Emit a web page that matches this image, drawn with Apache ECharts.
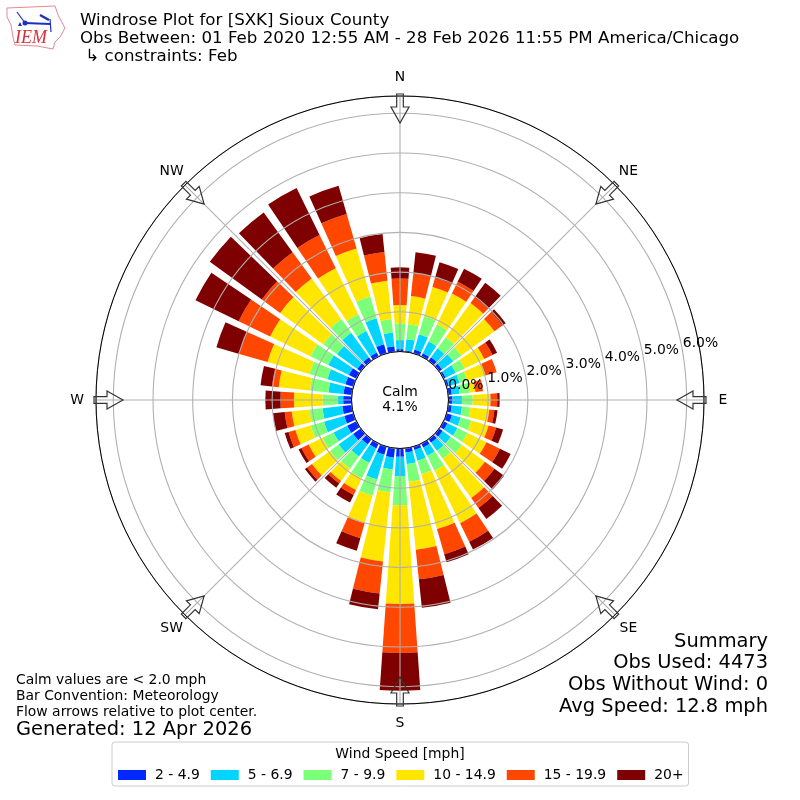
<!DOCTYPE html>
<html><head><meta charset="utf-8">
<style>html,body{margin:0;padding:0;background:#fff}#c{width:800px;height:800px}</style>
<script src="https://cdn.jsdelivr.net/npm/echarts@6/dist/echarts.min.js"></script>
</head><body><div id="c"></div>
<script>
const directions = [0,10,20,30,40,50,60,70,80,90,100,110,120,130,140,150,160,170,180,190,200,210,220,230,240,250,260,270,280,290,300,310,320,330,340,350];
const binNames = ['2 - 4.9','5 - 6.9','7 - 9.9','10 - 14.9','15 - 19.9','20+'];
const binColors = ['#0028ff','#00d4ff','#7cff79','#ffe600','#ff4700','#7f0000'];
const speed2to5 = [.06,.03,.10,.09,.11,.09,.06,.06,.09,.10,.09,.14,.11,.11,.11,.11,.09,.11,.21,.24,.21,.14,.16,.24,.26,.24,.24,.21,.21,.21,.21,.11,.11,.11,.24,.14];
const speed5to7 = [.23,.29,.40,.33,.28,.35,.28,.28,.20,.24,.26,.23,.28,.25,.25,.23,.28,.29,.49,.30,.65,.40,.38,.45,.38,.53,.50,.13,.38,.47,.58,.63,.76,.60,.68,.35];
const speed7to10 = [.42,.38,.48,.48,.35,.25,.25,.20,.25,.27,.21,.28,.28,.35,.25,.42,.35,.45,.73,.58,.43,.43,.38,.27,.31,.35,.33,.39,.47,.47,.50,.43,.43,.47,.57,.34];
const speed10to15 = [.46,.71,.76,.86,1.06,1.03,.55,.48,.15,.45,.48,.45,.53,.71,1.22,1.47,1.44,1.72,2.49,1.75,.72,.33,.38,.56,.39,.40,.45,.72,.79,1.10,1.13,1.34,1.26,1.29,1.26,.97];
const speed15to20 = [.67,.58,.24,.33,.18,.25,.23,.29,.19,.17,.13,.20,.38,.30,.31,.52,.66,.75,1.23,.81,.39,.14,.08,.15,.20,.18,.18,.34,.17,.74,.88,.57,.82,.93,.90,.73];
const speed20up = [.28,.53,.41,.37,.45,.10,.13,0,0,.06,.08,.18,.30,.30,.34,.22,.21,.72,.95,.40,.33,.21,.13,.07,.08,.10,.30,.38,.29,.60,1.21,1.62,1.24,1.32,.74,.45];
const binValues = [speed2to5,speed5to7,speed7to10,speed10to15,speed15to20,speed20up];
const radiusTicks = [0,1,2,3,4,5,6];
const radiusTickLabels = ['0.0%','1.0%','2.0%','3.0%','4.0%','5.0%','6.0%'];
const compassBearings = [0,45,90,135,180,225,270,315];
const compassLabels = ['N','NE','E','SE','S','SW','W','NW'];
const titleLines = ['Windrose Plot for [SXK] Sioux County','Obs Between: 01 Feb 2020 12:55 AM - 28 Feb 2026 11:55 PM America/Chicago',' \u21b3 constraints: Feb'];
const noteLines = ['Calm values are < 2.0 mph','Bar Convention: Meteorology','Flow arrows relative to plot center.'];
const generated = 'Generated: 12 Apr 2026';
const summaryLines = ['Summary','Obs Used: 4473','Obs Without Wind: 0','Avg Speed: 12.8 mph'];
const calmText = 'Calm\n4.1%';
const legendTitle = 'Wind Speed [mph]';

const FONT = '"DejaVu Sans"';
const CX = 400, CY = 400;
function txt(x,y,text,size,align,extra){
  return Object.assign({type:'text',x:x,y:y,z:20,silent:true,style:{text:text,fontFamily:FONT,fontSize:size,fill:'#000',textAlign:align||'left',textVerticalAlign:'middle'}},extra||{});
}
const graphics = [];
titleLines.forEach((t,i)=>graphics.push(txt(80,21+18*i,t,16.67)));
noteLines.forEach((t,i)=>graphics.push(txt(16,680+16*i,t,13.9)));
graphics.push(txt(16,730,generated,19.44));
summaryLines.forEach((t,i)=>graphics.push(txt(768,641.5+21.7*i,t,19.44,'right')));
graphics.push({type:'text',x:CX,y:CY,z:20,silent:true,style:{text:calmText,fontFamily:FONT,fontSize:13.9,lineHeight:15.5,fill:'#000',textAlign:'center',textVerticalAlign:'middle'}});
graphics.push(txt(400,754,legendTitle,13.9,'center'));
compassBearings.forEach((b,i)=>{
  const a=b*Math.PI/180;
  graphics.push(txt(CX+323*Math.sin(a),CY-323*Math.cos(a),compassLabels[i],13.9,'center'));
});
compassBearings.forEach(b=>{
  graphics.push({type:'polygon',x:CX,y:CY,rotation:-b*Math.PI/180,z:15,silent:true,
    shape:{points:[[-3.3,-306],[3.3,-306],[3.3,-293],[9,-293],[0,-277],[-9,-293],[-3.3,-293]]},
    style:{fill:'rgba(255,255,255,0)',stroke:'#333',lineWidth:1.2}});
});
// IEM logo
const RED='#e58a90', BLUE='#1c2fc0';
graphics.push({type:'polyline',z:15,silent:true,shape:{points:[[7,8],[55,6],[58,15],[65,28],[60,37],[55,42],[53,49],[37,46],[15,45],[13,37],[11,25],[7,17],[7,8]]},style:{stroke:RED,lineWidth:1,fill:null}});
graphics.push({type:'polyline',z:15,silent:true,shape:{points:[[25,23],[50,24]]},style:{stroke:BLUE,lineWidth:2}});
graphics.push({type:'polyline',z:15,silent:true,shape:{points:[[17,12],[25,23]]},style:{stroke:BLUE,lineWidth:1.2}});
graphics.push({type:'polyline',z:15,silent:true,shape:{points:[[40,15],[49,20]]},style:{stroke:BLUE,lineWidth:2.5}});
graphics.push({type:'polyline',z:15,silent:true,shape:{points:[[50,19],[51,32]]},style:{stroke:BLUE,lineWidth:1.2}});
graphics.push({type:'circle',z:15,silent:true,shape:{cx:25,cy:23,r:2.5},style:{fill:BLUE}});
graphics.push({type:'polygon',z:15,silent:true,shape:{points:[[18,26],[22,26],[20,22]]},style:{fill:BLUE}});
graphics.push({type:'text',x:31,y:38.5,z:15,silent:true,style:{text:'IEM',fontFamily:'"Liberation Serif"',fontStyle:'italic',fontSize:18,fill:'#d9303a',textAlign:'center',textVerticalAlign:'middle'}});

const series = binNames.map((name,i)=>({
  name:name,type:'bar',coordinateSystem:'polar',stack:'wind',barWidth:'80%',silent:true,
  itemStyle:{color:binColors[i]},
  data:directions.map((d,j)=>[binValues[i][j],d])
}));
series.push({
  type:'scatter',coordinateSystem:'polar',symbolSize:0,silent:true,z:12,
  itemStyle:{opacity:1},
  data:radiusTicks.map(t=>[t,80]),
  label:{show:true,position:'right',distance:0,offset:[0.5,-6.5],fontFamily:FONT,fontSize:13.9,color:'#000',opacity:1,
    formatter:p=>radiusTickLabels[p.dataIndex]}
});

const chart = echarts.init(document.getElementById('c'),null,{renderer:'canvas'});
chart.setOption({
  animation:false,
  backgroundColor:'#fff',
  polar:{center:[CX,CY],radius:[48.5,304]},
  angleAxis:{type:'value',min:0,max:360,interval:45,startAngle:90,clockwise:true,z:5,
    axisLine:{show:true,lineStyle:{color:'#000',width:1}},
    axisTick:{show:false},
    axisLabel:{show:false},
    splitLine:{show:true,lineStyle:{color:'#b0b0b0',width:1.1}}
  },
  radiusAxis:{type:'value',min:0,max:6.436,interval:1,z:5,
    axisLine:{show:false},axisTick:{show:false},axisLabel:{show:false},
    splitLine:{show:true,lineStyle:{color:'#b0b0b0',width:1.1}}
  },
  legend:{data:binNames,left:112,top:742,orient:'horizontal',icon:'rect',itemWidth:28,itemHeight:10,itemGap:11,
    padding:[26,5,4,6],borderColor:'#ccc',borderWidth:1,borderRadius:3,selectedMode:false,
    textStyle:{fontFamily:FONT,fontSize:13.9,color:'#000',padding:[0,0,0,4]}},
  tooltip:{show:false},
  graphic:{elements:graphics},
  series:series
});
</script></body></html>
